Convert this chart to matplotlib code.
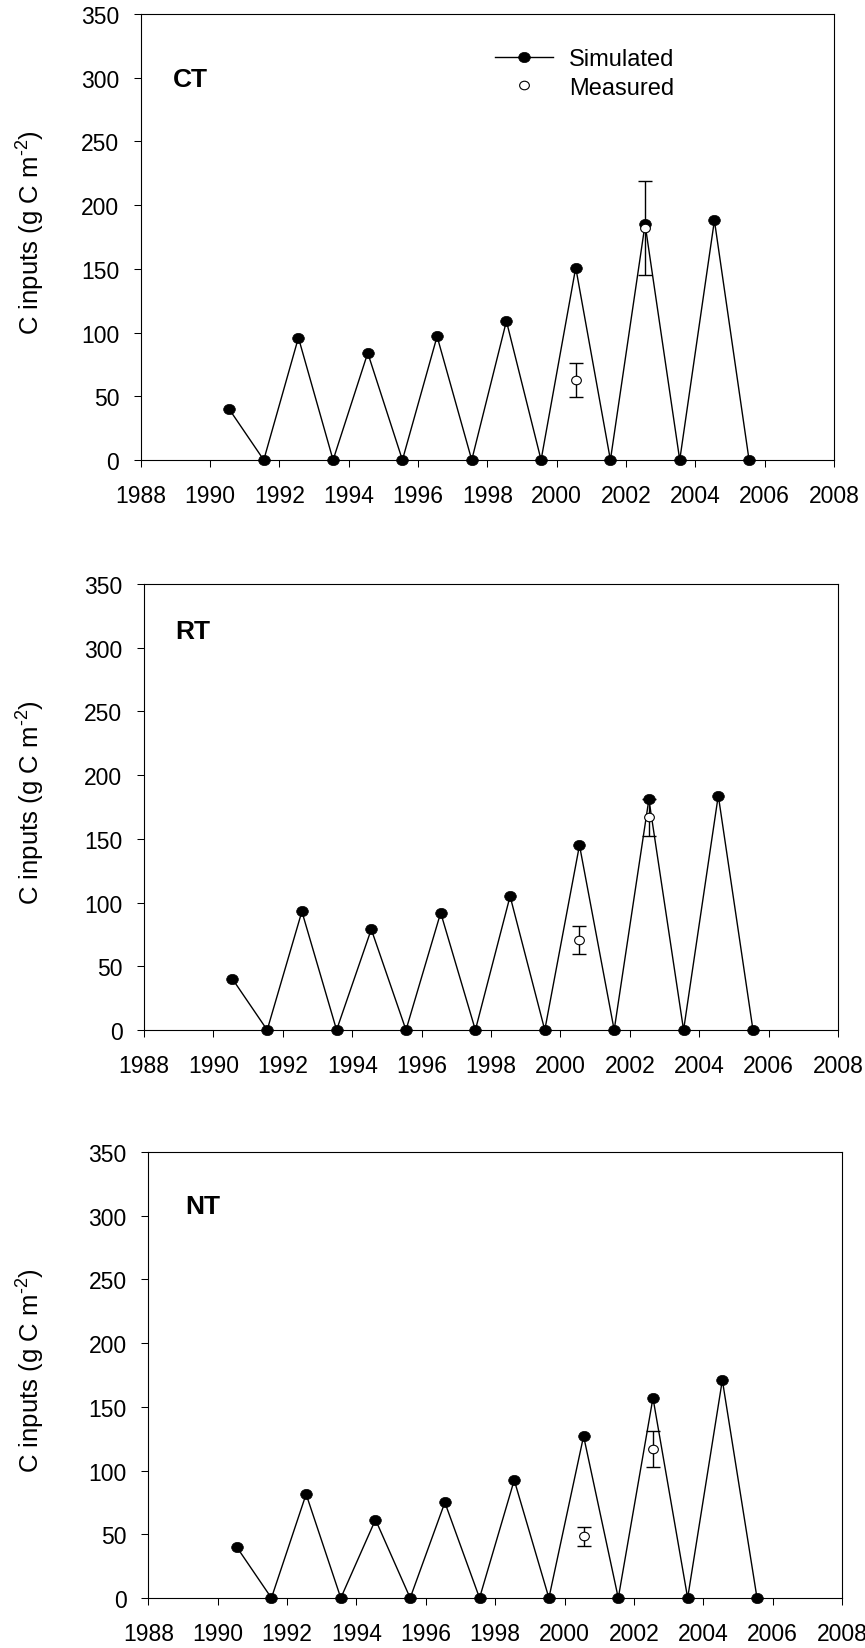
import matplotlib
matplotlib.use("Agg")
import matplotlib.pyplot as plt
from matplotlib.path import Path
from matplotlib.transforms import Affine2D
from matplotlib.lines import Line2D

plt.rcParams['font.family'] = ['Liberation Sans', 'DejaVu Sans']
plt.rcParams['mathtext.fontset'] = 'custom'
plt.rcParams['mathtext.rm'] = 'Liberation Sans'
plt.rcParams['mathtext.it'] = 'Liberation Sans:italic'
plt.rcParams['mathtext.bf'] = 'Liberation Sans:bold'

# ---------------- data ----------------
panel_names = ["CT", "RT", "NT"]
years_sim = [1990.55, 1991.55, 1992.55, 1993.55, 1994.55, 1995.55, 1996.55, 1997.55,
             1998.55, 1999.55, 2000.55, 2001.55, 2002.55, 2003.55, 2004.55, 2005.55]
sim_ct = [40, 0, 96, 0, 84, 0, 97, 0, 109, 0, 151, 0, 185, 0, 188, 0]
sim_rt = [40, 0, 93, 0, 79, 0, 92, 0, 105, 0, 145, 0, 181, 0, 184, 0]
sim_nt = [40, 0, 81.5, 0, 61.5, 0, 75, 0, 92.5, 0, 127, 0, 157, 0, 171, 0]

years_meas = [2000.55, 2002.55]
meas_ct = [63, 182]
err_ct = [13.5, 37]
meas_rt = [70.5, 167]
err_rt = [11, 14.5]
meas_nt = [48.5, 117]
err_nt = [7.5, 14]

x_ticks = [1988, 1990, 1992, 1994, 1996, 1998, 2000, 2002, 2004, 2006, 2008]
y_ticks = [0, 50, 100, 150, 200, 250, 300, 350]
ylabel = "C inputs (g C m$^{\\mathregular{\u20102}}$)"
legend_labels = ["Simulated", "Measured"]

sims = [sim_ct, sim_rt, sim_nt]
meas = [meas_ct, meas_rt, meas_nt]
errs = [err_ct, err_rt, err_nt]

# ---------------- layout (pixels) ----------------
W, H = 865, 1649
rects = [(140.7, 15, 834, 461), (144, 585, 838, 1031), (148.3, 1153, 842, 1599)]
label_pos = [(32, 65), (31, 47), (37, 54.5)]  # px offsets (from left, from top)

ell = Path.unit_circle().transformed(Affine2D().scale(1.0, 0.88))

fig = plt.figure(figsize=(W / 100, H / 100), dpi=100)

for i, (l, t, r, b) in enumerate(rects):
    ax = fig.add_axes([l / W, 1 - b / H, (r - l) / W, (b - t) / H])
    ax.plot(years_sim, sims[i], color='k', lw=1.0, marker=ell, ms=8.4,
            mfc='k', mec='k', mew=0.5, clip_on=False, zorder=3)
    ax.errorbar(years_meas, meas[i], yerr=errs[i], fmt='none', ecolor='k',
                elinewidth=1.0, capsize=5, capthick=1.0, zorder=4)
    ax.plot(years_meas, meas[i], ls='none', marker=ell, ms=7.0, mfc='white',
            mec='k', mew=0.8, zorder=5)

    ax.set_xlim(x_ticks[0], x_ticks[-1])
    ax.set_ylim(y_ticks[0], y_ticks[-1])
    ax.set_xticks(x_ticks)
    ax.set_yticks(y_ticks)
    ax.tick_params(axis='both', direction='out', length=5, width=0.75,
                   labelsize=16.5, top=False, right=False)
    ax.tick_params(axis='x', pad=12)
    ax.tick_params(axis='y', pad=10.5)
    for sp in ax.spines.values():
        sp.set_linewidth(0.8)

    dx, dy = label_pos[i]
    ax.text(dx / (r - l), 1 - dy / (b - t), panel_names[i],
            transform=ax.transAxes, fontsize=19, fontweight='bold',
            ha='left', va='center')

    yc = (t + b) / 2 - 5
    fig.text(30.5 / W, 1 - yc / H, ylabel, rotation=90, ha='center', va='center',
             fontsize=18.5)

    if i == 0:
        handles = [Line2D([], [], color='k', lw=1.0, marker=ell, ms=8.4, mfc='k', mec='k', mew=0.5),
                   Line2D([], [], ls='none', marker=ell, ms=7.0, mfc='white', mec='k', mew=0.8)]
        ax.legend(handles, legend_labels, loc='upper left',
                  bbox_to_anchor=((495 - l) / (r - l), 1 - (49 - t) / (b - t)),
                  frameon=False, fontsize=17, borderaxespad=0, borderpad=0,
                  handlelength=2.45, handletextpad=0.68, labelspacing=0.28,
                  numpoints=1)

fig.savefig("out.png", dpi=100)
